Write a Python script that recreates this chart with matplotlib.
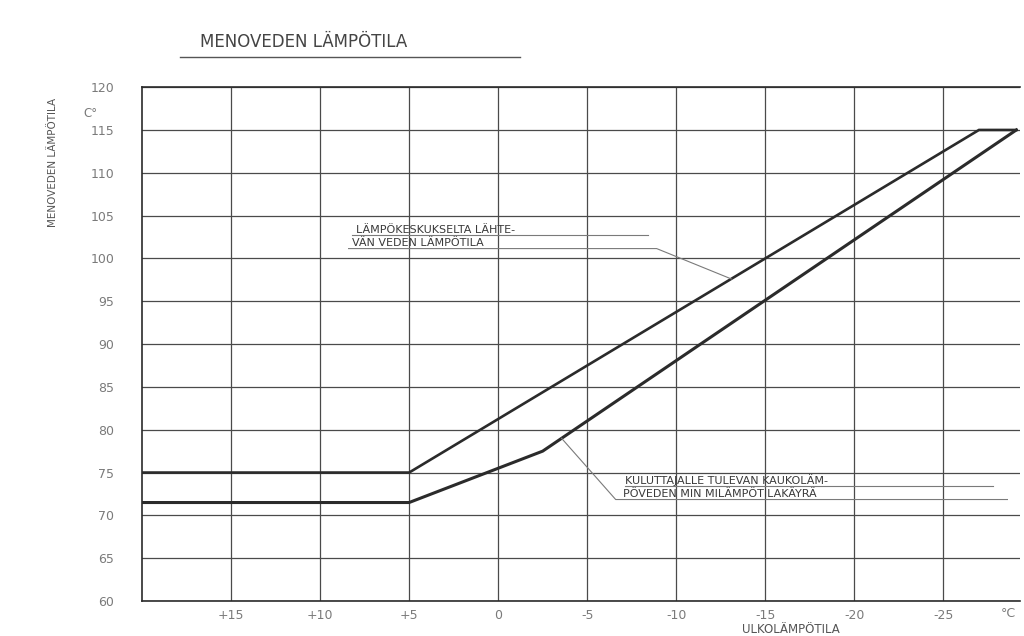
import matplotlib
matplotlib.use("Agg")
import matplotlib.pyplot as plt

# outdoor temperature (°C) on x, supply water temperature (°C) on y
x_ticks = [15, 10, 5, 0, -5, -10, -15, -20, -25]
x_tick_labels = ["+15", "+10", "+5", "0", "-5", "-10", "-15", "-20", "-25"]
y_ticks = [60, 65, 70, 75, 80, 85, 90, 95, 100, 105, 110, 115, 120]

# lämpökeskukselta lähtevän veden lämpötila
plant_x = [20, 5, -27, -29.1]
plant_y = [75, 75, 115, 115]

# kuluttajalle tulevan kaukolämpöveden minimilämpötilakäyrä
consumer_x = [20, 5, -2.5, -29.1]
consumer_y = [71.5, 71.5, 77.5, 115]

ink = "#2b2b2b"
grid_c = "#4a4a4a"
faint = "#7a7a7a"

fig = plt.figure(figsize=(10.24, 6.36), dpi=100)
ax = fig.add_axes([0.1387, 0.055, 0.8573, 0.808])

ax.set_xlim(20, -29.3)
ax.set_ylim(60, 120)

ax.set_xticks(x_ticks)
ax.set_xticklabels(x_tick_labels)
ax.set_yticks(y_ticks)
ax.tick_params(axis="both", length=0, labelcolor=faint, labelsize=9)
ax.tick_params(axis="y", pad=20)
ax.tick_params(axis="x", pad=6)

ax.grid(True, color=grid_c, linewidth=0.9)
ax.set_axisbelow(True)
for side in ["left", "bottom", "top"]:
    ax.spines[side].set_color(ink)
    ax.spines[side].set_linewidth(1.2)
ax.spines["right"].set_visible(False)

ax.plot(plant_x, plant_y, color=ink, linewidth=1.9, solid_joinstyle="miter")
ax.plot(consumer_x, consumer_y, color=ink, linewidth=2.2, solid_joinstyle="miter")

# annotation: plant supply curve (lettering with guide lines)
lab_kw = dict(fontsize=8, color="#3a3a3a", ha="left", va="baseline")
ax.text(8.0, 102.95, "LÄMPÖKESKUKSELTA LÄHTE-", **lab_kw)
ax.text(8.2, 101.4, "VÄN VEDEN LÄMPÖTILA", **lab_kw)
ax.plot([8.2, -8.4], [102.7, 102.7], color=faint, linewidth=0.8)
ax.plot([8.4, -8.9, -13.1], [101.15, 101.15, 97.6], color=faint, linewidth=0.8)

# annotation: consumer minimum curve
ax.text(-7.1, 73.65, "KULUTTAJALLE TULEVAN KAUKOLÄM-", **lab_kw)
ax.text(-7.0, 72.1, "PÖVEDEN MIN MILÄMPÖTILAKÄYRÄ", **lab_kw)
ax.plot([-7.1, -27.8], [73.4, 73.4], color=faint, linewidth=0.8)
ax.plot([-3.56, -6.6, -28.6], [79.0, 71.85, 71.85], color=faint, linewidth=0.8)

# axis texts
fig.text(0.195, 0.926, "MENOVEDEN LÄMPÖTILA", fontsize=12, color="#444444",
         ha="left", va="baseline")
fig.add_artist(plt.Line2D([0.176, 0.508], [0.91, 0.91], color="#555555",
                          linewidth=1.0))
fig.text(0.052, 0.745, "MENOVEDEN LÄMPÖTILA", rotation=90, fontsize=7.5,
         color="#555555", ha="center", va="center")
fig.text(0.081, 0.822, "C°", fontsize=8.5, color=faint, ha="left", va="center")
fig.text(0.772, 0.005, "ULKOLÄMPÖTILA", fontsize=8.5, color="#555555",
         ha="center", va="baseline")
fig.text(0.985, 0.036, "°C", fontsize=9, color=faint, ha="center", va="center")

fig.savefig("out.png", dpi=100, facecolor="white")
